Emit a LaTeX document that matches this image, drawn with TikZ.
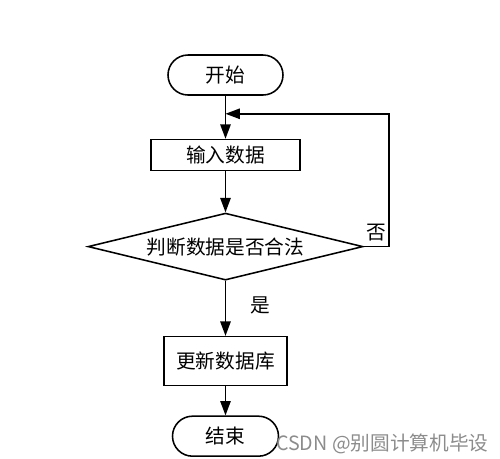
\documentclass[tikz,border=0pt]{standalone}
\usepackage{fontspec}
\newfontfamily\cjk{Noto Sans CJK SC}
\usetikzlibrary{positioning, shapes.geometric, arrows.meta}

\tikzset{
  terminal/.style={draw, line width=1.1pt, rounded corners=0.5cm, minimum width=2.8cm, minimum height=1cm, font=\cjk\fontsize{14}{16}\selectfont},
  process/.style={draw, line width=1.1pt, minimum height=0.775cm, font=\cjk\fontsize{14}{16}\selectfont},
  decision/.style={draw, line width=1.1pt, diamond, aspect=4.1, inner sep=0pt, minimum width=6.875cm, minimum height=1.675cm, font=\cjk\fontsize{14}{16}\selectfont},
  flow/.style={line width=1.1pt, -{Triangle[length=0.36cm,width=0.26cm]}},
  watermark/.style={text=black!45, font=\cjk\fontsize{14}{16}\selectfont}
}

\begin{document}
\begin{tikzpicture}
  \useasboundingbox (-5.6375,1.875) rectangle (6.8625,-9.575);
  \node[terminal, minimum width=2.875cm] (start) at (0,0) {开始};
  \node[process, minimum width=3.725cm, below=1.075cm of start] (input) {输入数据};
  \node[decision, below=1.025cm of input] (check) {判断数据是否合法};
  \node[process, minimum width=3.075cm, minimum height=1.225cm, below=1.375cm of check] (update) {更新数据库};
  \node[terminal, minimum width=2.65cm, below=0.725cm of update] (stop) {结束};
  \coordinate[below=0.45cm of start] (join);
  \node[watermark, right=-0.2cm of stop.east, yshift=-0.2cm] (credit) {CSDN @别圆计算机毕设};

  \draw[flow] (start) -- (input);
  \draw[flow] (input) -- (check);
  \draw[flow] (check) -- node[right=0.5cm, pos=0.45, font=\cjk\fontsize{14}{16}\selectfont] {是} (update);
  \draw[flow] (update) -- (stop);
  \draw[flow] (check.east) -- node[above, font=\cjk\fontsize{14}{16}\selectfont] {否} ++(0.625,0) |- (join);
\end{tikzpicture}
\end{document}
